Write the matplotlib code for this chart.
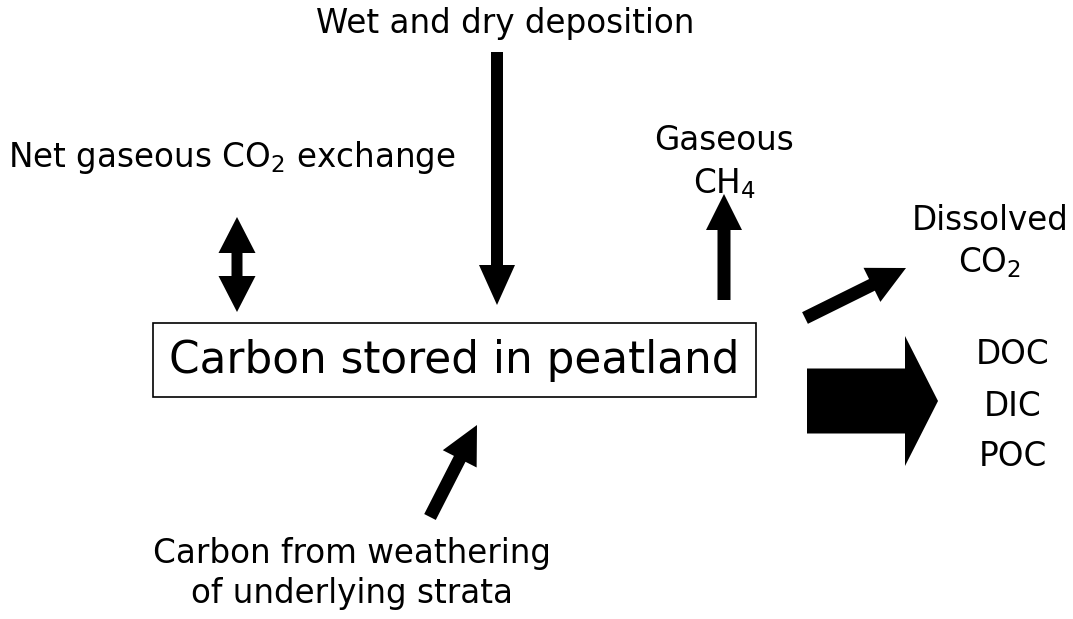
import matplotlib
matplotlib.use("Agg")
import matplotlib.pyplot as plt
from matplotlib.patches import FancyArrow, Rectangle

plt.rcParams['font.family'] = ['DejaVu Sans']

W, H = 1073, 619

# Labels (text, x, y, size, ha)
labels = [
    ("Wet and dry deposition", 505, 24, 23.5, "center"),
    ("Net gaseous CO$_2$ exchange", 8, 157, 23.5, "left"),
    ("Gaseous", 724, 140, 23.5, "center"),
    ("CH$_4$", 724, 184, 23.5, "center"),
    ("Dissolved", 990, 220, 23.5, "center"),
    ("CO$_2$", 990, 263, 23.5, "center"),
    ("DOC", 1013, 355, 23.5, "center"),
    ("DIC", 1013, 406, 23.5, "center"),
    ("POC", 1013, 457, 23.5, "center"),
    ("Carbon from weathering", 352, 553, 23.5, "center"),
    ("of underlying strata", 352, 594, 23.5, "center"),
]
box_label = "Carbon stored in peatland"

# Arrows: (x_tail, y_tail, x_tip, y_tip, shaft_width, head_width, head_length)
arrows = [
    (497, 52, 497, 305, 12, 36, 40),      # wet and dry deposition
    (724, 300, 724, 194, 13, 36, 36),     # gaseous CH4
    (805, 318, 906, 268, 13, 38, 38),     # dissolved CO2
    (430, 517, 477, 425, 13, 38, 38),     # weathering
    (237, 265, 237, 217, 11, 37, 36),     # CO2 exchange up
    (237, 265, 237, 312, 11, 37, 36),     # CO2 exchange down
    (807, 401, 938, 401, 65, 130, 33),    # DOC/DIC/POC
]

fig = plt.figure(figsize=(W / 100, H / 100), dpi=100)
ax = fig.add_axes([0, 0, 1, 1])
ax.set_xlim(0, W)
ax.set_ylim(H, 0)
ax.axis("off")

ax.add_patch(Rectangle((153, 323), 603, 74, fill=False, edgecolor="black", linewidth=1.2))
ax.text(454, 360, box_label, ha="center", va="center", fontsize=31.5)

for x0, y0, x1, y1, w, hw, hl in arrows:
    ax.add_patch(FancyArrow(x0, y0, x1 - x0, y1 - y0, width=w, head_width=hw,
                            head_length=hl, length_includes_head=True,
                            color="black", linewidth=0))

for t, x, y, s, ha in labels:
    ax.text(x, y, t, ha=ha, va="center", fontsize=s)

fig.savefig("out.png", dpi=100)
